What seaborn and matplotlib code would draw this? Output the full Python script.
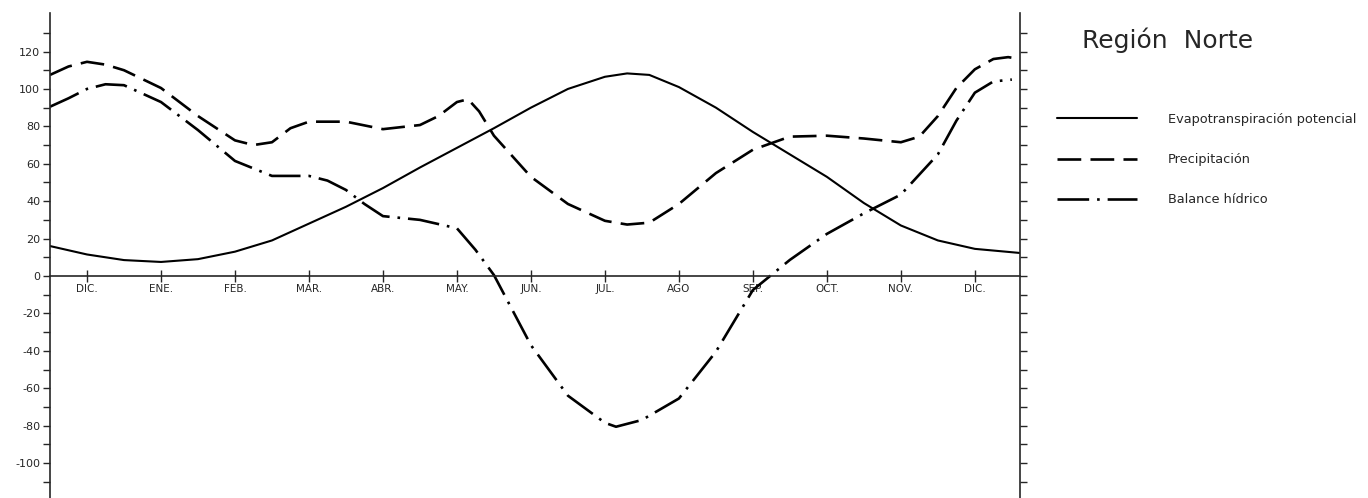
"""Región Norte: evapotranspiración, precipitación y balance hídrico."""

import matplotlib
matplotlib.use("Agg")
import matplotlib.pyplot as plt
import numpy as np
import pandas as pd
import seaborn as sns

# month position: 0 = DIC of previous year, 12 = DIC
mes_etp = [-0.5, 0, 0.5, 1, 1.5, 2, 2.5, 3, 3.5, 4, 4.5, 5, 5.5, 6, 6.5,
           7, 7.3, 7.6, 8, 8.5, 9, 9.5, 10, 10.5, 11, 11.5, 12, 12.61]
evapotranspiracion = [16, 11.5, 8.5, 7.5, 9, 13, 19, 28, 37, 47, 58, 68.5, 79, 90, 100,
                      106.5, 108.3, 107.5, 101, 90, 77, 65, 53, 39, 27, 19, 14.5, 12.3]

mes_pp = [-0.5, -0.25, 0, 0.25, 0.5, 1, 1.5, 2, 2.25, 2.5, 2.75, 3, 3.5, 4, 4.5,
          4.75, 5, 5.15, 5.3, 5.5, 6, 6.5, 7, 7.3, 7.6, 8, 8.5, 9, 9.5, 10,
          10.5, 11, 11.25, 11.5, 11.75, 12, 12.25, 12.45, 12.61]
precipitacion = [107.5, 112, 114.5, 113, 110, 100.5, 85.5, 72.5, 70, 71.5, 79, 82.5, 82.5, 78.5, 80.7,
                 85.5, 93, 94.5, 88, 75, 53, 38.5, 29.5, 27.5, 28.5, 38.5, 55, 67.5, 74.5, 75,
                 73.5, 71.5, 74.5, 85.5, 100.5, 110.5, 116, 117, 116]

mes_bh = [-0.5, -0.25, 0, 0.25, 0.5, 1, 1.5, 2, 2.5, 3, 3.25, 3.5, 3.75, 4, 4.5,
          5, 5.25, 5.5, 6, 6.5, 7, 7.15, 7.5, 8, 8.5, 9, 9.5, 10, 10.5, 11,
          11.5, 11.75, 12, 12.25, 12.5]
balance = [90.5, 95, 100, 102.5, 102, 93, 78, 61.5, 53.5, 53.5, 51, 46, 38.5, 32, 30,
           25.5, 14, 0.5, -37, -64, -78.5, -80.6, -77, -65.5, -40.5, -7.5, 8.6, 22.5, 33.5, 43.5,
           65, 83, 98, 104, 105]

series = ["Evapotranspiración potencial", "Precipitación", "Balance hídrico"]
meses_ticks = ["DIC.", "ENE.", "FEB.", "MAR.", "ABR.", "MAY.", "JUN.",
               "JUL.", "AGO", "SEP.", "OCT.", "NOV.", "DIC."]

df = pd.DataFrame({
    "mes": mes_etp + mes_pp + mes_bh,
    "valor": evapotranspiracion + precipitacion + balance,
    "serie": np.repeat(series, [len(mes_etp), len(mes_pp), len(mes_bh)]),
})

sns.set_style("ticks")
plt.rcParams["font.family"] = ["DejaVu Sans"]

fig = plt.figure(figsize=(13.68, 4.98), dpi=100)
ax = fig.add_axes([50 / 1368, 0, 970 / 1368, 485 / 498])

dashes = {series[0]: "", series[1]: (9, 3.5), series[2]: (12, 3, 1, 3)}
sns.lineplot(data=df, x="mes", y="valor", style="serie", style_order=series,
             dashes=dashes, color="black", linewidth=1.9, legend=False, ax=ax)
ax.lines[0].set_linewidth(1.5)

ax.set_xlim(-0.5, 12.61)
ax.set_ylim(-118.7, 140.6)
ax.set_xlabel("")
ax.set_ylabel("")

# y axis: labelled every 20, ticks every 10, on both sides
ax.set_yticks(range(-100, 121, 20))
ax.set_yticklabels([str(v) for v in range(-100, 121, 20)])
ax.set_yticks([v for v in range(-110, 131, 10) if v % 20], minor=True)
ax.tick_params(axis="y", which="both", left=True, right=True, labelright=False,
               direction="out", length=5, width=1, labelsize=8, pad=2)

# x axis drawn along the zero line
ax.spines["top"].set_visible(False)
ax.spines["bottom"].set_position(("data", 0))
for s in ("left", "right", "bottom"):
    ax.spines[s].set_linewidth(1.2)
ax.set_xticks(range(13))
ax.set_xticklabels(meses_ticks)
ax.tick_params(axis="x", direction="inout", length=9, width=1, labelsize=7.5, pad=1)

fig.text(1082 / 1368, 1 - 40 / 498, "Región  Norte", fontsize=18,
         ha="left", va="center")

fig.legend(ax.lines[:3], series, loc="upper left",
           bbox_to_anchor=(1057 / 1368, 1 - 113 / 498), frameon=False,
           fontsize=9.3, handlelength=6.2, handletextpad=2.4,
           labelspacing=2.1, borderpad=0, borderaxespad=0)

fig.savefig("out.png", dpi=100)
